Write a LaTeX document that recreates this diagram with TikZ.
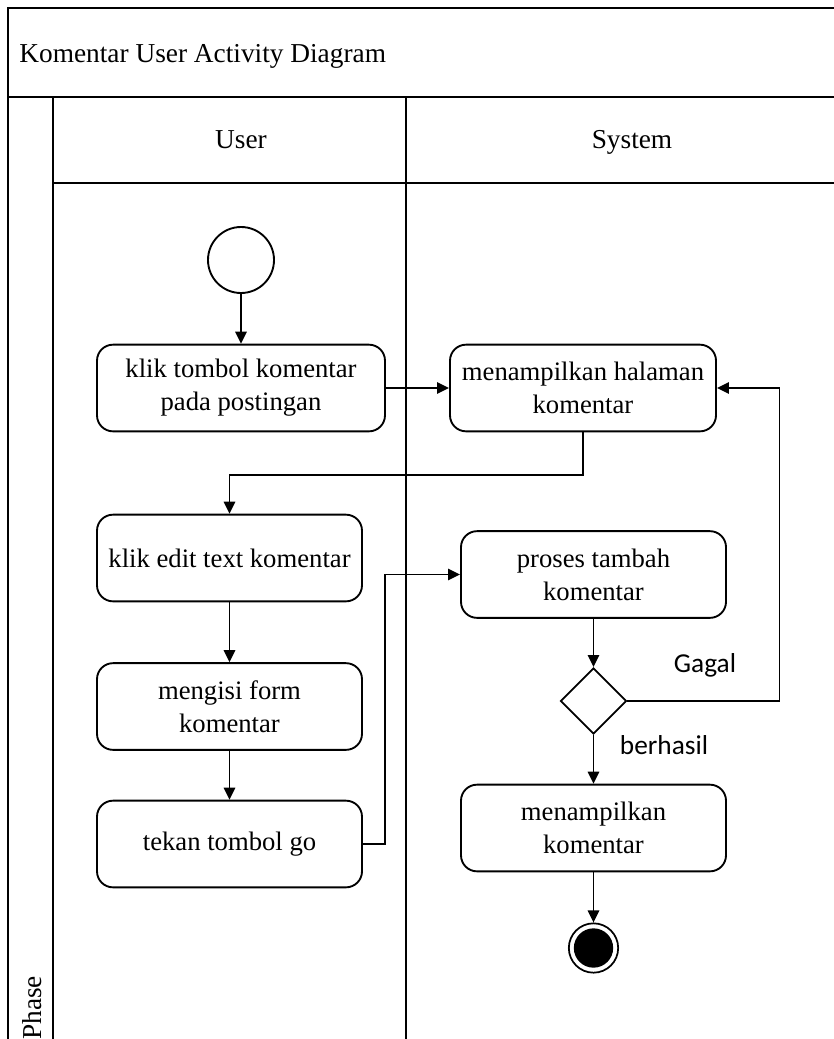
\documentclass[tikz,border=0pt]{standalone}
\usepackage{fontspec}
\setmainfont{Liberation Serif}
\newfontfamily\labelfont{Carlito}
\usetikzlibrary{arrows.meta,shapes.geometric}

\begin{document}
\begin{tikzpicture}[x=0.75pt,y=-0.75pt,
  line width=1.4pt,
  lane/.style={line width=1.4pt},
  actbox/.style={draw, rounded corners=12pt, minimum height=65pt,
    align=center, inner sep=0pt,
    font=\fontsize{20}{24.6}\selectfont},
  arr/.style={-{Triangle[length=9pt,width=8.5pt]}},
  guard/.style={font=\labelfont\fontsize{20.5}{24}\selectfont},
  head/.style={font=\fontsize{20.5}{24}\selectfont}]

  \useasboundingbox (0,0) rectangle (834,1039);

  % swimlane frame
  \draw[lane] (850,8) -- (8,8) -- (8,1050);
  \draw[lane] (8,97) -- (850,97);
  \draw[lane] (53,97) -- (53,1050);
  \draw[lane] (53,183) -- (850,183);
  \draw[lane] (406,97) -- (406,1050);

  % titles
  \node[head, anchor=base west] (title) at (14,62) {Komentar User Activity Diagram};
  \node[head, anchor=base] (hUser) at (241,148) {User};
  \node[head, anchor=base] (hSystem) at (632,148) {System};
  \node[head, rotate=90, anchor=west] (phase) at (32,1045) {Phase};

  % user lane
  \node[draw, circle, minimum size=49.5pt, inner sep=0pt] (start) at (241,260) {};
  \node[actbox, minimum width=216pt] (b1) at (241,388) {klik tombol komentar\\pada postingan};
  \node[actbox, minimum width=198.75pt] (b3) at (229.5,558) {klik edit text komentar};
  \node[actbox, minimum width=198.75pt] (b4) at (229.5,706.5) {mengisi form\\komentar};
  \node[actbox, minimum width=198.75pt] (b5) at (229.5,844) {tekan tombol go};

  % system lane
  \node[actbox, minimum width=199.5pt] (b2) at (583,388) {menampilkan halaman\\komentar};
  \node[actbox, minimum width=198.75pt] (b6) at (593.5,574.5) {proses tambah\\komentar};
  \node[draw, diamond, minimum width=49.5pt, minimum height=49.5pt, inner sep=0pt] (dec) at (593.5,701) {};
  \node[actbox, minimum width=198.75pt] (b7) at (593.5,828) {menampilkan\\komentar};
  \node[circle, draw, minimum size=37pt, inner sep=0pt, line width=1.3pt] (stop) at (593.5,948) {};
  \node[circle, fill=black, minimum size=29.5pt, inner sep=0pt] (stopdot) at (593.5,948) {};

  % flows
  \draw[arr] (start) -- (b1);
  \draw[arr] (b1) -- (b2);
  \draw[arr] (b2.south) -- ++(0,43) -| (b3.north);
  \draw[arr] (b3) -- (b4);
  \draw[arr] (b4) -- (b5);
  \draw[arr] (b5.east) -- ++(22,0) |- (b6.west);
  \draw[arr] (b6) -- (dec);
  \draw[arr] (dec.east) -- ++(152,0) |- (b2.east);
  \draw[arr] (dec) -- (b7);
  \draw[arr] (b7) -- (stop);

  % guards
  \node[guard] (gagal) at (705,665) {Gagal};
  \node[guard] (berhasil) at (664,745) {berhasil};
\end{tikzpicture}
\end{document}
